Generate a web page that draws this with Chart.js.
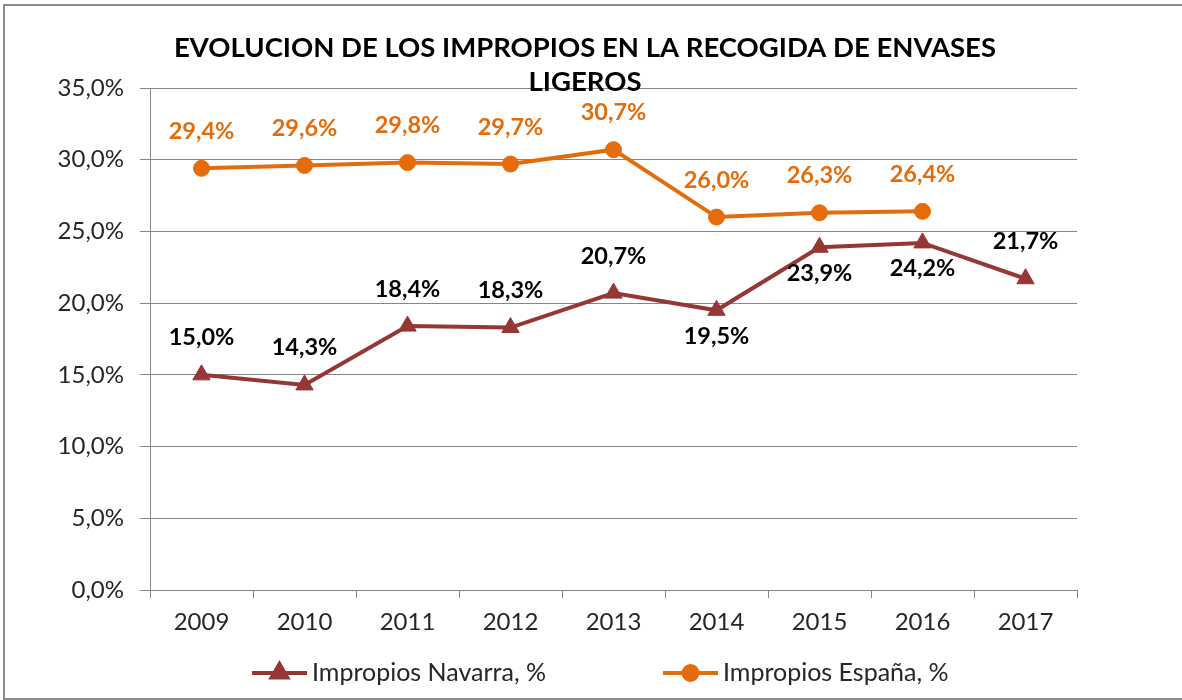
<!DOCTYPE html>
<html>
<head>
<meta charset="utf-8">
<script src="https://cdn.jsdelivr.net/npm/chart.js@4"></script>
<style>
  html, body { margin: 0; padding: 0; background: #fff; }
  #wrap { width: 1182px; height: 700px; position: relative; }
</style>
</head>
<body>
<div id="wrap"><canvas id="chart" width="1182" height="700"></canvas></div>
<script>
// datos
const years = ['2009', '2010', '2011', '2012', '2013', '2014', '2015', '2016', '2017'];
const navarra = [15.0, 14.3, 18.4, 18.3, 20.7, 19.5, 23.9, 24.2, 21.7];
const espana = [29.4, 29.6, 29.8, 29.7, 30.7, 26.0, 26.3, 26.4, null];
const titleLines = ['EVOLUCION DE LOS IMPROPIOS EN LA RECOGIDA DE ENVASES', 'LIGEROS'];
const seriesNames = ['Impropios Navarra, %', 'Impropios España, %'];

// dónde va la etiqueta de cada punto de Navarra
const navarraBelow = [false, false, false, false, false, true, true, true, false];

const FONT = 'Lato, "Open Sans", sans-serif';
const fmt = v => v.toFixed(1).replace('.', ',') + '%';

// marco, título y leyenda dibujados a mano
const extras = {
    id: 'extras',
    beforeDraw(chart) {
        const ctx = chart.ctx;
        ctx.save();
        ctx.strokeStyle = '#8c8c8c';
        ctx.lineWidth = 2;
        ctx.strokeRect(4, 5, chart.width + 10, chart.height - 6);
        ctx.restore();
    },
    afterDraw(chart) {
        const ctx = chart.ctx;
        ctx.save();
        // título
        ctx.fillStyle = '#000';
        ctx.font = 'bold 27.5px ' + FONT;
        ctx.textAlign = 'center';
        ctx.textBaseline = 'middle';
        ctx.fillText(titleLines[0], chart.width / 2 - 6, 48);
        ctx.fillText(titleLines[1], chart.width / 2 - 6, 82);

        // etiquetas de datos
        ctx.font = 'bold 23.5px ' + FONT;
        chart.data.datasets.forEach((ds, di) => {
            const meta = chart.getDatasetMeta(di);
            ctx.fillStyle = di === 0 ? '#000' : '#E46C0A';
            meta.data.forEach((pt, i) => {
                const v = ds.data[i];
                if (v === null || v === undefined) return;
                const below = di === 0 && navarraBelow[i];
                ctx.fillText(fmt(v), pt.x, below ? pt.y + 26 : pt.y - 37);
            });
        });

        // leyenda
        const items = [
            { x: 252, ds: chart.data.datasets[0] },
            { x: 663, ds: chart.data.datasets[1] }
        ];
        const ly = 673;
        items.forEach(it => {
            ctx.strokeStyle = it.ds.borderColor;
            ctx.lineWidth = 4;
            ctx.beginPath();
            ctx.moveTo(it.x, ly);
            ctx.lineTo(it.x + 55, ly);
            ctx.stroke();
            Chart.helpers.drawPoint(ctx, {
                pointStyle: it.ds.pointStyle,
                radius: it.ds.pointRadius - 1,
                borderWidth: 1
            }, it.x + 27.5, ly);
            ctx.fillStyle = it.ds.borderColor;
            ctx.fill();
            ctx.fillStyle = '#262626';
            ctx.font = '25px ' + FONT;
            ctx.textAlign = 'left';
            ctx.fillText(it.ds.label, it.x + 60, ly);
        });
        ctx.restore();
    }
};

new Chart(document.getElementById('chart'), {
    type: 'line',
    data: {
        labels: years,
        datasets: [
            {
                label: seriesNames[0],
                data: navarra,
                borderColor: '#953735',
                backgroundColor: '#953735',
                borderWidth: 4,
                pointStyle: 'triangle',
                pointRadius: 10,
                pointBorderWidth: 1,
                tension: 0
            },
            {
                label: seriesNames[1],
                data: espana,
                borderColor: '#E46C0A',
                backgroundColor: '#E46C0A',
                borderWidth: 4,
                pointStyle: 'circle',
                pointRadius: 8,
                pointBorderWidth: 1,
                tension: 0
            }
        ]
    },
    options: {
        responsive: false,
        animation: false,
        devicePixelRatio: 1,
        layout: { padding: { left: 0, right: 105, top: 88, bottom: 0 } },
        plugins: {
            legend: { display: false },
            title: { display: false },
            tooltip: { enabled: false }
        },
        scales: {
            x: {
                offset: true,
                afterFit: s => { s.height = 110; },
                grid: {
                    offset: true,
                    drawOnChartArea: false,
                    drawTicks: true,
                    tickLength: 8,
                    color: '#868686'
                },
                border: { color: '#868686', width: 1 },
                ticks: {
                    color: '#262626',
                    padding: 10,
                    font: { family: FONT, size: 24 }
                }
            },
            y: {
                min: 0,
                max: 35,
                afterFit: s => { s.width = 150; },
                grid: { color: '#868686', tickLength: 10 },
                border: { color: '#868686', width: 1 },
                ticks: {
                    stepSize: 5,
                    color: '#262626',
                    padding: 16,
                    font: { family: FONT, size: 24 },
                    callback: v => fmt(v)
                }
            }
        }
    },
    plugins: [extras]
});
</script>
</body>
</html>
